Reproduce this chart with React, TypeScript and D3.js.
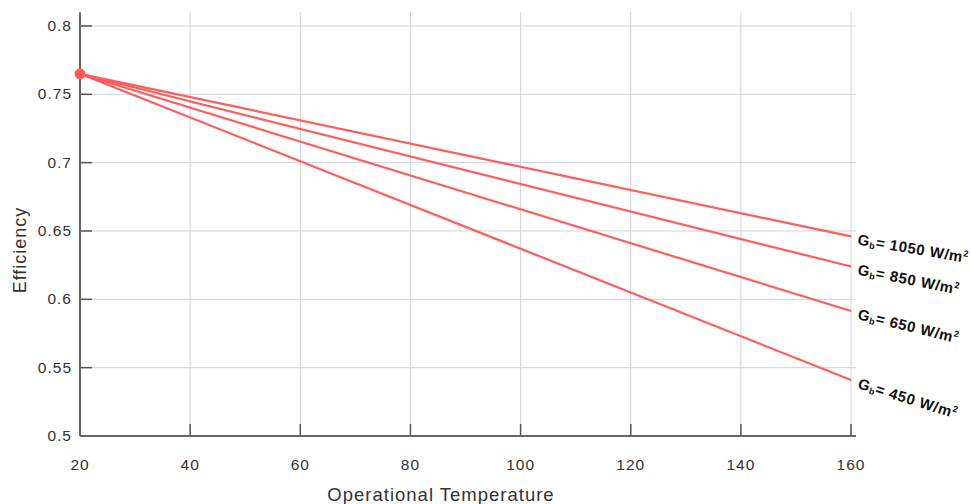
import React from "react";
import * as d3 from "d3";

const temperatures = [20, 160];
const series = [
  { label: "1050", values: [0.765, 0.646] },
  { label: "850", values: [0.765, 0.624] },
  { label: "650", values: [0.765, 0.5915] },
  { label: "450", values: [0.765, 0.541] },
];
const xTicks = [20, 40, 60, 80, 100, 120, 140, 160];
const yTicks = [0.5, 0.55, 0.6, 0.65, 0.7, 0.75, 0.8];

const W = 971;
const H = 504;
const FONT = "'Liberation Sans', Arial, sans-serif";
const RED = "#ff5c5c";

export default function App() {
  const x = d3.scaleLinear().domain([20, 160.9]).range([80, 856]);
  const y = d3.scaleLinear().domain([0.5, 0.81]).range([436, 12.3]);
  const line = d3
    .line<number>()
    .x((_, i) => x(temperatures[i]))
    .y((d) => y(d));
  const fmt = (v: number) => String(+v.toFixed(2));
  const x0 = x.range()[0];
  const y0 = y.range()[0];
  const yTop = y.range()[1];
  const xRight = x.range()[1];
  return (
    <svg
      width={W}
      height={H}
      style={{ position: "absolute", left: 0, top: 0, background: "#fff" }}
      fontFamily={FONT}
    >
      {/* grid */}
      {xTicks.slice(1).map((t) => (
        <line key={"gx" + t} x1={x(t)} x2={x(t)} y1={yTop} y2={y0} stroke="#d2d2da" strokeWidth={1} />
      ))}
      {yTicks.slice(1).map((t) => (
        <line key={"gy" + t} x1={x0} x2={xRight} y1={y(t)} y2={y(t)} stroke="#d2d2da" strokeWidth={1} />
      ))}
      {/* tick marks */}
      {xTicks.map((t) => (
        <line key={"tx" + t} x1={x(t)} x2={x(t)} y1={y0} y2={y0 - 12} stroke="#555" strokeWidth={1.5} />
      ))}
      {yTicks.map((t) => (
        <line key={"ty" + t} x1={x0} x2={x0 + 12} y1={y(t)} y2={y(t)} stroke="#555" strokeWidth={1.5} />
      ))}
      {/* axes */}
      <line x1={x0} x2={x0} y1={yTop} y2={y0} stroke="#666" strokeWidth={2} />
      <line x1={x0} x2={xRight} y1={y0} y2={y0} stroke="#666" strokeWidth={2} />
      {/* tick labels */}
      {xTicks.map((t) => (
        <text key={"lx" + t} x={x(t)} y={470} textAnchor="middle" fontSize={15.5} letterSpacing={1} fill="#333">
          {t}
        </text>
      ))}
      {yTicks.map((t) => (
        <text key={"ly" + t} x={72} y={y(t) + 5} textAnchor="end" fontSize={15.5} letterSpacing={1} fill="#333">
          {fmt(t)}
        </text>
      ))}
      <text x={441} y={501} textAnchor="middle" fontSize={18.5} letterSpacing={1} fill="#333">
        Operational Temperature
      </text>
      <text transform={`translate(26,${250}) rotate(-90)`} textAnchor="middle" fontSize={18} letterSpacing={1} fill="#333">
        Efficiency
      </text>
      {/* series */}
      {series.map((s) => (
        <path key={s.label} d={line(s.values) || ""} fill="none" stroke={RED} strokeWidth={2.2} />
      ))}
      <circle cx={x(temperatures[0])} cy={y(series[0].values[0])} r={5.5} fill={RED} />
      {series.map((s) => {
        const xe = x(temperatures[1]);
        const ye = y(s.values[1]);
        const ang =
          (Math.atan2(ye - y(s.values[0]), xe - x(temperatures[0])) * 180) / Math.PI * 0.8;
        return (
          <text
            key={"lab" + s.label}
            transform={`translate(${xe + 6},${ye + 8}) rotate(${ang})`}
            fontSize={15}
            fontWeight="bold"
            letterSpacing={0.6}
            fill="#111"
          >
            G
            <tspan fontSize={9} dy={2}>b</tspan>
            <tspan dy={-2}>{`= ${s.label} W/m`}</tspan>
            <tspan fontSize={9} dy={-6}>2</tspan>
          </text>
        );
      })}
    </svg>
  );
}
